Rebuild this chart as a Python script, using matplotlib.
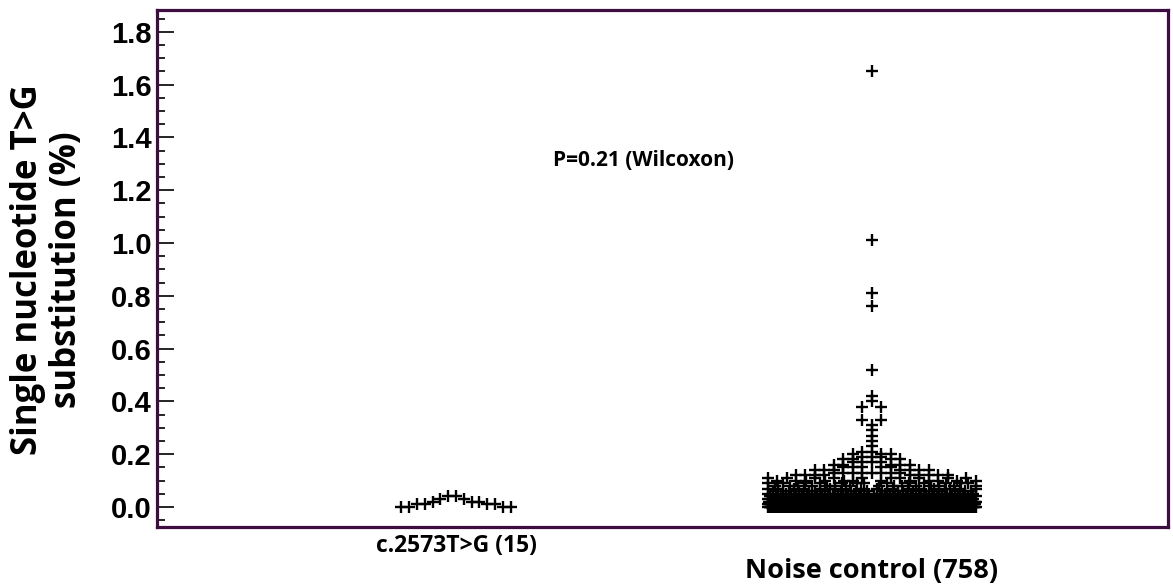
import numpy as np
import matplotlib
matplotlib.use("Agg")
import matplotlib.pyplot as plt
from matplotlib.ticker import MultipleLocator, FormatStrFormatter

# ---------------- data ----------------
categories = ["c.2573T>G (15)", "Noise control (758)"]

# group 1: 15 values (%)
case_values = [0.00, 0.01, 0.02, 0.03, 0.04]
case_counts = [4, 4, 3, 2, 2]

# noise control: 758 values (%), value -> count
noise_values = [0.00, 0.01, 0.02, 0.03, 0.04, 0.05,
                0.06, 0.07, 0.08, 0.09,
                0.10, 0.11, 0.12, 0.13,
                0.14, 0.15, 0.16, 0.17,
                0.18, 0.19, 0.20, 0.21,
                0.23, 0.25, 0.27, 0.29, 0.31, 0.33, 0.38, 0.40, 0.42,
                0.52, 0.76, 0.81, 1.01, 1.65]
noise_counts = [202, 150, 95, 75, 45, 35,
                22, 18, 15, 13,
                12, 10, 9, 8,
                7, 5, 5, 4,
                4, 3, 3, 2,
                1, 1, 1, 1, 1, 2, 2, 1, 1,
                1, 1, 1, 1, 1]

yticks = [0.0, 0.2, 0.4, 0.6, 0.8, 1.0, 1.2, 1.4, 1.6, 1.8]
annotation = "P=0.21 (Wilcoxon)"
ylabel_lines = ["Single nucleotide T>G", "substitution (%)"]

# ---------------- figure ----------------
W, H, DPI = 1173, 587, 100
fig = plt.figure(figsize=(W / DPI, H / DPI), dpi=DPI)
ax = fig.add_axes([157 / W, 60 / H, (1168 - 157) / W, (527 - 10) / H])

ax.set_xlim(0.281, 2.712)
ax.set_ylim(-0.0758, 1.883)

px_per_x = (1168 - 157) / (2.712 - 0.281)


def swarm(center, values, counts, dx_px, max_half_px, bin_h):
    """Dot-plot layout: values grouped in bins of height bin_h, spread
    horizontally on a grid of spacing dx_px (compressed if too wide)."""
    vals = np.repeat(np.asarray(values, float), counts)
    bins = np.floor(vals / bin_h + 1e-6).astype(int)
    xs, ys = [], []
    for b in np.unique(bins):
        v = np.sort(vals[bins == b])[::-1]
        n = len(v)
        if n % 2:
            slots = np.arange(n) - (n - 1) / 2.0
        else:
            h = np.arange(1, n // 2 + 1)
            slots = np.concatenate([-h[::-1], h]).astype(float)
        dx = dx_px / px_per_x
        max_half = max_half_px / px_per_x
        if np.max(np.abs(slots)) * dx > max_half:
            # crowded row: squeeze and mix the values evenly along the row
            dx = max_half / np.max(np.abs(slots))
            order = np.argsort((np.arange(n) * 0.6180339887) % 1.0)
        else:
            order = np.argsort(np.abs(slots) + 1e-6 * (slots > 0),
                               kind="stable")
        offs = slots[order] * dx
        xs.extend(center + offs)
        ys.extend(v)
    return np.array(xs), np.array(ys)


x1, y1 = swarm(1, case_values, case_counts, 7.8, 60, 0.05)
x2, y2 = swarm(2, noise_values, noise_counts, 9.5, 104, 0.02)

for xx, yy in ((x1, y1), (x2, y2)):
    ax.plot(xx, yy, linestyle="none", marker="+", color="black",
            markersize=8, markeredgewidth=1.7)

# ---------------- styling ----------------
frame_col = "#3d0c40"
for s in ax.spines.values():
    s.set_color(frame_col)
    s.set_linewidth(2.3)

ax.set_yticks(yticks)
ax.yaxis.set_major_formatter(FormatStrFormatter("%.1f"))
ax.yaxis.set_minor_locator(MultipleLocator(0.05))
ax.tick_params(axis="y", which="major", direction="in", length=12, width=1.2,
               color="black", pad=4, right=False)
ax.tick_params(axis="y", which="minor", direction="in", length=6, width=1.2,
               color="black", right=False)
for lab in ax.get_yticklabels():
    lab.set_fontfamily("Liberation Sans")
    lab.set_fontweight("bold")
    lab.set_fontsize(21)
ax.set_xticks([])

for line, xpx in zip(ylabel_lines, (28, 67)):
    fig.text(xpx / W, 1 - 270 / H, line, rotation=90, ha="center",
             va="center", fontsize=25, fontweight="bold", family="Open Sans")

ax.text(1.452, 1.311, annotation, ha="center", va="center", fontsize=15,
        fontweight="bold", family="Open Sans")

xt = ax.get_xaxis_transform()
ax.text(1, -0.037, categories[0], transform=xt, ha="center", va="center",
        fontsize=16.5, fontweight="bold", family="Open Sans")
ax.text(2, -0.0855, categories[1], transform=xt, ha="center", va="center",
        fontsize=19.5, fontweight="bold", family="Open Sans")

fig.savefig("out.png", dpi=DPI)
